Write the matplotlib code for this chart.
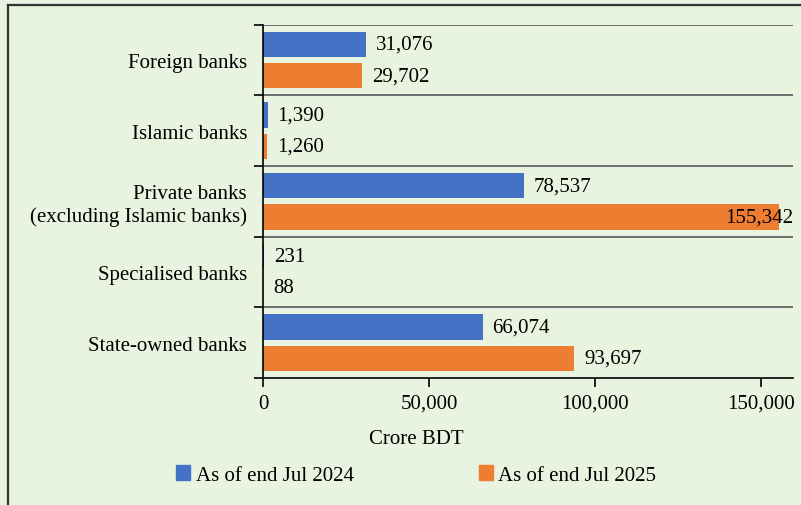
import numpy as np
import matplotlib.pyplot as plt
from matplotlib.lines import Line2D
from matplotlib.patches import Patch

# ── Data ──────────────────────────────────────────────────────
categories = ["Foreign banks", "Islamic banks",
              "Private banks\n(excluding Islamic banks)",
              "Specialised banks", "State-owned banks"]
jul_2024 = [31076, 1390, 78537, 231, 66074]
jul_2025 = [29702, 1260, 155342, 88, 93697]
series_names = ["As of end Jul 2024", "As of end Jul 2025"]
x_ticks = [0, 50000, 100000, 150000]

# ── Style ─────────────────────────────────────────────────────
BG = '#E8F3E0'
BLUE = '#4472C4'
ORANGE = '#ED7D31'
FONT = 'Liberation Serif'
FS = 15
plt.rcParams['font.family'] = FONT

fig = plt.figure(figsize=(8.01, 5.06), dpi=100, facecolor=BG)
ax = fig.add_axes([263 / 801, 1 - 379 / 506, (793 - 263) / 801, (379 - 25.7) / 506])
ax.set_facecolor(BG)

y = np.arange(len(categories))
h = 0.355
off = 0.222
ax.barh(y - off, jul_2024, height=h, color=BLUE, label=series_names[0])
ax.barh(y + off, jul_2025, height=h, color=ORANGE, label=series_names[1])

xmax = 159500
ax.set_xlim(0, xmax)
ax.set_ylim(len(categories) - 0.5, -0.5)

# data labels
for yy, v in zip(y - off, jul_2024):
    ax.text(v + 3000, yy, f"{v:,}", va='center', ha='left', fontsize=FS)
for yy, v in zip(y + off, jul_2025):
    if v > 0.9 * xmax:
        ax.text(xmax, yy, f"{v:,}", va='center', ha='right', fontsize=FS)
    else:
        ax.text(v + 3000, yy, f"{v:,}", va='center', ha='left', fontsize=FS)

# category separators
for b in np.arange(-0.5, len(categories) - 0.5, 1.0):
    ax.axhline(b, color='#6E6E6E', lw=1.4, zorder=0.5)

# axes styling
for s in ['top', 'right']:
    ax.spines[s].set_visible(False)
ax.spines['left'].set_color('black')
ax.spines['bottom'].set_color('black')
ax.spines['left'].set_linewidth(1.2)
ax.spines['bottom'].set_linewidth(1.2)

ax.set_yticks(y)
ax.set_yticklabels(categories, fontsize=FS)
ax.set_yticks(np.arange(-0.5, len(categories), 1.0), minor=True)
ax.tick_params(axis='y', which='major', length=0, pad=11.5)
ax.tick_params(axis='y', which='minor', length=6.5, width=1.2, color='black')

ax.set_xticks(x_ticks)
ax.set_xticklabels([f"{t:,}" for t in x_ticks], fontsize=FS)
ax.tick_params(axis='x', length=6.5, width=1.2, pad=5)

fig.text(416 / 801, 1 - 440 / 506, "Crore BDT", ha='center', va='center', fontsize=FS)

handles = [Patch(color=BLUE), Patch(color=ORANGE)]
fig.legend(handles, series_names, loc='center', bbox_to_anchor=(416 / 801, 1 - 476 / 506),
           ncol=2, frameon=False, fontsize=FS, handlelength=0.7, handleheight=0.7,
           handletextpad=0.25, columnspacing=6.0)

# figure frame (top and left edges)
fig.add_artist(Line2D([7.5 / 801, 1], [1 - 5.5 / 506, 1 - 5.5 / 506], color='#333333', lw=1.6))
fig.add_artist(Line2D([7.5 / 801, 7.5 / 801], [0, 1 - 5.5 / 506], color='#333333', lw=1.6))

fig.savefig("out.png", dpi=100, facecolor=BG)
